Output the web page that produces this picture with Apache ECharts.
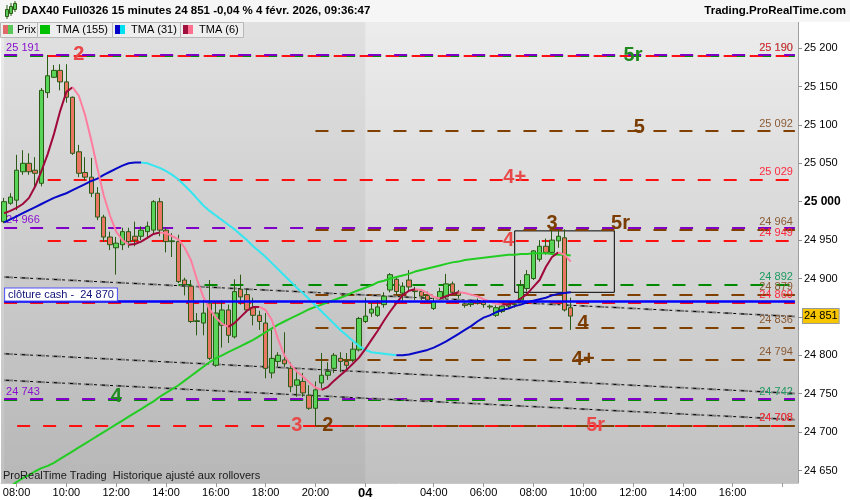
<!DOCTYPE html>
<html><head><meta charset="utf-8">
<script src="https://cdn.jsdelivr.net/npm/echarts@6/dist/echarts.min.js"></script>
<style>html,body{margin:0;padding:0;background:#fff}#c{width:850px;height:500px}</style>
</head><body><div id="c"></div>
<script>
// ---------------- DATA ----------------
function buildTimes(day, h0, m0, count){const out=[];let t=h0*60+m0;for(let i=0;i<count;i++){const h=Math.floor(t/60),m=t%60;out.push(day+' '+String(h).padStart(2,'0')+':'+String(m).padStart(2,'0'));t+=15;}return out;}
const categories = buildTimes('03',7,30,58).concat(buildTimes('04',1,15,70));

const xLabelCats = ['03 08:00','03 10:00','03 12:00','03 14:00','03 16:00','03 18:00','03 20:00','04 01:15','04 04:00','04 06:00','04 08:00','04 10:00','04 12:00','04 14:00','04 16:00'];
const xTickCats = xLabelCats.concat(['04 18:00']);
const yTicks = [24650,24700,24750,24800,24850,24900,24950,25000,25050,25100,25150,25200];

const open = [24974,24998,25002,25039,25050,25041,25024,25142,25162,25171,
25156,25136,25065,25038,25032,25011,24980,24954,24940,24944,
24961,24955,24955,24961,24963,25000,24963,24948,24948,24898,
24890,24844,24842,24868,24787,24839,24859,24824,24886,24879,
24862,24852,24842,24777,24792,24794,24783,24761,24766,24748,
24731,24764,24774,24783,24796,24792,24794,24807,24844,24855,
24852,24866,24885,24899,24881,24898,24885,24883,24878,24861,
24874,24876,24893,24882,24867,24866,24868,24869,24864,24852,
24857,24864,24866,24872,24887,24900,24925,24942,24934,24949,
24953,24862];
const close = [25000,25006,25041,25050,25039,25037,25145,25164,25171,25156,
25136,25063,25037,25032,25011,24980,24954,24944,24946,24961,
24948,24950,24963,24968,25000,24963,24948,24949,24896,24892,
24844,24845,24855,24796,24855,24859,24826,24883,24876,24859,
24852,24844,24783,24796,24800,24789,24759,24768,24751,24731,
24755,24774,24779,24800,24792,24787,24808,24848,24851,24860,
24863,24877,24905,24883,24890,24889,24883,24877,24872,24870,
24883,24893,24882,24878,24865,24868,24870,24866,24863,24862,
24864,24866,24867,24891,24905,24936,24942,24934,24950,24955,
24859,24851];
const low = [24972,24996,24989,25035,25035,25019,25020,25135,25161,25145,
25129,25061,25032,25028,25006,24976,24948,24937,24905,24937,
24940,24942,24950,24953,24957,24955,24934,24928,24894,24878,
24842,24826,24826,24794,24785,24810,24816,24822,24866,24856,
24839,24833,24770,24770,24785,24785,24752,24746,24746,24729,
24708,24757,24768,24777,24778,24781,24791,24805,24842,24850,
24850,24862,24882,24879,24870,24885,24872,24872,24870,24859,
24872,24873,24879,24874,24862,24863,24866,24862,24860,24850,
24855,24861,24862,24868,24883,24898,24922,24931,24931,24940,
24857,24833];
const high = [25005,25011,25061,25067,25063,25058,25148,25191,25178,25179,
25179,25137,25074,25058,25057,25019,24983,24961,24954,24966,
24966,24974,24968,24974,25002,25005,24966,24959,24957,24901,
24898,24855,24872,24898,24869,24872,24866,24899,24905,24885,
24875,24858,24855,24833,24804,24830,24791,24781,24777,24761,
24766,24803,24791,24803,24804,24803,24817,24850,24875,24869,
24872,24882,24907,24902,24895,24911,24889,24886,24883,24875,
24888,24906,24896,24885,24869,24872,24874,24872,24866,24865,
24868,24869,24870,24898,24911,24937,24950,24952,24963,24964,
24964,24875];

const tma155 = [24624,24629,24635,24640,24644,24649,24653,24656,24660,24665,
24670,24675,24680,24685,24690,24695,24700,24705,24710,24715,
24720,24725,24730,24735,24740,24746,24751,24756,24761,24767,
24773,24779,24785,24791,24796,24800,24804,24808,24812,24816,
24820,24825,24830,24835,24840,24844,24848,24852,24856,24860,
24863,24866,24869,24872,24875,24878,24882,24885,24888,24891,
24895,24897,24900,24902,24904,24906,24909,24911,24913,24915,
24917,24919,24921,24922,24924,24925,24926,24927,24928,24929,
24930,24931,24931,24932,24932,24933,24933,24933,24932,24931,
24931,24930];
const tma31 = [24973,24977,24981,24985,24989,24993,24997,25001,25005,25008,
25011,25015,25019,25023,25027,25030,25035,25039,25043,25047,
25050,25051,25051,25050,25047,25044,25040,25035,25029,25021,
25013,25004,24995,24988,24982,24976,24970,24964,24957,24950,
24942,24935,24928,24920,24912,24904,24896,24888,24881,24873,
24865,24857,24849,24841,24833,24826,24819,24812,24807,24804,
24803,24802,24801,24800,24800,24801,24803,24805,24807,24810,
24814,24818,24823,24828,24833,24838,24844,24849,24852,24856,
24859,24861,24864,24866,24869,24871,24873,24875,24878,24880,
24881,24882];
const tma6 = [24985,24988,24992,24997,25005,25020,25040,25062,25088,25118,
25143,25149,25138,25113,25080,25043,25008,24982,24961,24950,
24944,24945,24948,24953,24958,24960,24959,24955,24951,24940,
24924,24898,24876,24860,24849,24841,24837,24842,24850,24858,
24863,24863,24859,24846,24821,24800,24788,24779,24772,24765,
24758,24755,24759,24767,24774,24781,24789,24797,24808,24820,
24832,24845,24857,24868,24878,24884,24886,24885,24881,24876,
24874,24877,24880,24882,24881,24879,24877,24873,24870,24867,
24866,24866,24869,24874,24880,24889,24898,24915,24928,24934,
24931,24922];

const purpleLevels = [25191, 24966, 24743];
const greenLevels = [25190, 24892, 24742];
const brownLevels = [25092, 24964, 24879, 24836, 24794, 24708];
const redLevels = [25190, 25029, 24949, 24869, 24708];
const cashClose = 24870;
const lastPrice = 24851;
const trendStart = [24902, 24802, 24767.6];
const trendEnd = [24850.5, 24750.4, 24716.2];
const boxTop = 24962, boxBottom = 24882;
const waveText = ['2','5r','5','4+','3','5r','4','4','4+','4','3','2','5r'];
const waveCat = ['03 10:30','04 12:00','04 12:15','04 07:15','04 08:45','04 11:30','04 07:00','04 10:00','04 10:00','03 12:00','03 19:15','03 20:30','04 10:30'];
const waveValue = [25192,25190,25097,25031,24972,24971,24949,24841,24794,24746,24709,24709,24708];
const waveKind = ['red','green','brown','red','brown','brown','red','brown','brown','green','red','brown','red'];

// ---------------- STYLE ----------------
const FF = 'Liberation Sans, Arial, sans-serif';
const COL = {red:'#ff1010', purple:'#8000c8', green:'#008a00', brown:'#7f4000', blue:'#0000ff'};
const TXT = {red:'#ff2a40', purple:'#8a10d0', green:'#1e9a60', brown:'#8a5a34'};
const WAVE = {red:'#e84848', brown:'#7a3c00', green:'#1f8a1f'};
const fmt = v => String(Math.round(v)).replace(/\B(?=(\d{3})+(?!\d))/g, ' ');
const lastCat = categories[categories.length-1];
const redStart = [7,7,7,0,0], greenStart = [0,28,0], brownStart = 50, purpleStart = 0;

function seg(v, startIdx, color, side, txtColor, dashOffset){
  const lbl = side ? {show:true, position: side==='right'?'insideEndTop':'insideStartTop', formatter: fmt(v), color: txtColor, fontSize:11, fontFamily:FF, distance:2} : {show:false};
  return [{coord:[categories[startIdx], v], lineStyle:{color:color, width:2, type:[13,13], dashOffset:dashOffset||0}, label:lbl},
          {coord:[lastCat, v]}];
}
const guideLines = [];
greenLevels.forEach((v,i)=>guideLines.push(seg(v, greenStart[i], COL.green, 'right', TXT.green)));
brownLevels.forEach(v=>guideLines.push(seg(v, brownStart, COL.brown, 'right', TXT.brown)));
redLevels.forEach((v,i)=>guideLines.push(seg(v, redStart[i], COL.red, 'right', TXT.red, v===24708?13:0)));
purpleLevels.forEach(v=>guideLines.push(seg(v, purpleStart, COL.purple, 'left', TXT.purple)));
trendStart.forEach((v,i)=>{
  guideLines.push([{coord:[categories[0], v], lineStyle:{color:'#7c7c7c', width:2, type:[9,7]}, label:{show:false}}, {coord:[lastCat, trendEnd[i]]}]);
  guideLines.push([{coord:[categories[0], v], lineStyle:{color:'#000', width:1, type:[3,5], dashOffset:-10}, label:{show:false}}, {coord:[lastCat, trendEnd[i]]}]);
});

function runs(vals, up, down, name){
  const out=[]; let start=0, dir=null;
  for(let i=0;i<vals.length-1;i++){
    const d = vals[i+1]>=vals[i]?'up':'down';
    if(dir===null) dir=d;
    if(d!==dir){ out.push([start,i,dir]); start=i; dir=d; }
  }
  out.push([start, vals.length-1, dir]);
  return out.map(([a,b,d])=>({type:'line', name:name, z:3, symbol:'none', silent:true, animation:false,
    data: vals.map((v,i)=>(i>=a&&i<=b)?v:'-'),
    lineStyle:{color: d==='up'?up:down, width:2}, itemStyle:{color: d==='up'?up:down}}));
}
const empty = categories.map(()=> '-');

const candleData = open.map((o,i)=>[o, close[i], low[i], high[i]]);

const tabs = [
  {x:0, w:37, text:'Prix', c1:'#e06a6a', c2:'#58c858', tx:15},
  {x:37, w:75, text:'TMA (155)', c1:'#00c000', c2:'#00c000', tx:54},
  {x:112, w:68, text:'TMA (31)', c1:'#0000c8', c2:'#00e0f0', tx:129},
  {x:180, w:63, text:'TMA (6)', c1:'#a0103c', c2:'#ff7090', tx:197}
];
const graphic = [
  {type:'rect', z:100, shape:{x:0,y:0,width:850,height:22}, style:{fill:'#f6f6f6'}},
  {type:'line', z:101, shape:{x1:7,y1:5,x2:7,y2:19}, style:{stroke:'#2a5a14', lineWidth:1}},
  {type:'rect', z:102, shape:{x:5.5,y:9.5,width:3,height:7}, style:{fill:'#58c858', stroke:'#2a5a14', lineWidth:1}},
  {type:'line', z:101, shape:{x1:11,y1:3,x2:11,y2:16}, style:{stroke:'#2a5a14', lineWidth:1}},
  {type:'rect', z:102, shape:{x:9.5,y:6.5,width:3,height:7}, style:{fill:'#58c858', stroke:'#2a5a14', lineWidth:1}},
  {type:'line', z:101, shape:{x1:15,y1:1,x2:15,y2:12}, style:{stroke:'#2a5a14', lineWidth:1}},
  {type:'rect', z:102, shape:{x:13.5,y:3.5,width:3,height:6}, style:{fill:'#58c858', stroke:'#2a5a14', lineWidth:1}},
  {type:'text', z:102, x:22, y:11, style:{text:'DAX40 Full0326 15 minutes 24 851 -0,04 % 4 févr. 2026, 09:36:47', font:'bold 11.5px '+FF, fill:'#000', align:'left', verticalAlign:'middle'}},
  {type:'text', z:102, x:846, y:11, style:{text:'Trading.ProRealTime.com', font:'bold 11.5px '+FF, fill:'#000', align:'right', verticalAlign:'middle'}},
  {type:'text', z:102, x:3, y:476, style:{text:'ProRealTime Trading  Historique ajusté aux rollovers', font:'11px '+FF, fill:'#1a1a1a', align:'left', verticalAlign:'middle'}}
];
tabs.forEach(t=>{
  graphic.push({type:'rect', z:100, shape:{x:t.x+0.5,y:22.5,width:t.w,height:15}, style:{fill:'#eeeeee', stroke:'#b8b8b8', lineWidth:1}});
  graphic.push({type:'rect', z:101, shape:{x:t.x+3,y:25,width:5,height:9}, style:{fill:t.c1}});
  graphic.push({type:'rect', z:101, shape:{x:t.x+8,y:25,width:5,height:9}, style:{fill:t.c2}});
  graphic.push({type:'text', z:101, x:t.tx+2, y:30, style:{text:t.text, font:'11px '+FF, fill:'#000', align:'left', verticalAlign:'middle'}});
});

const labelSet = new Set(xLabelCats.map(c=>categories.indexOf(c)));
const tickSet = new Set(xTickCats.map(c=>categories.indexOf(c)));

const option = {
  animation:false,
  backgroundColor:'#ffffff',
  grid:{left:1, right:52, top:22, bottom:17, containLabel:false, outerBoundsMode:'none', show:true, borderWidth:0,
    backgroundColor:{type:'linear',x:0,y:0,x2:0,y2:1,colorStops:[{offset:0,color:'#ececec'},{offset:1,color:'#c0c0c0'}]}},
  xAxis:{type:'category', data:categories, boundaryGap:true,
    axisLine:{show:true, lineStyle:{color:'#c8c8c8'}},
    axisTick:{show:true, interval:(i)=>tickSet.has(i), alignWithLabel:true, length:4, lineStyle:{color:'#9a9a9a'}},
    axisLabel:{interval:(i)=>labelSet.has(i), margin:4, fontSize:11, fontFamily:FF, color:'#000',
      formatter:(v)=> v==='04 01:15' ? '{d|04}' : v.slice(3),
      rich:{d:{fontWeight:'bold', fontSize:13, fontFamily:FF, color:'#000'}}},
    splitLine:{show:false}},
  yAxis:{type:'value', position:'right', min:24633.7, max:25234.0, scale:true,
    axisLine:{show:true, lineStyle:{color:'#a0a0a0'}},
    axisTick:{show:true, length:4, customValues:yTicks, lineStyle:{color:'#909090'}},
    axisLabel:{customValues:yTicks, margin:6, fontSize:11, fontFamily:FF, color:'#000',
      formatter:(v)=> v===25000 ? '{b|25 000}' : fmt(v),
      rich:{b:{fontWeight:'bold', fontSize:12, fontFamily:FF, color:'#000'}}},
    splitLine:{show:false}},
  graphic: graphic,
  series:[
    {type:'line', name:'guides', z:1, data:empty, symbol:'none', silent:true, lineStyle:{opacity:0},
      markArea:{z:1, silent:true, animation:false, data:[
        [{xAxis:categories[0], itemStyle:{color:'rgba(0,0,0,0.045)'}}, {xAxis:'04 01:15'}],
        [{coord:['04 07:15', boxTop], itemStyle:{color:'rgba(0,0,0,0)', borderColor:'#000', borderWidth:1}}, {coord:['04 11:15', boxBottom]}]
      ]},
      markLine:{z:1, silent:true, animation:false, symbol:['none','none'], precision:0, data:guideLines}},
    {type:'candlestick', name:'Prix', z:2, data:candleData, barWidth:5, silent:true,
      itemStyle:{color:'#58d458', color0:'#ea7664', borderColor:'#2a5a14', borderColor0:'#2a5a14', borderWidth:1}},
    {type:'line', name:'TMA (155)', z:3, data:tma155, symbol:'none', silent:true, lineStyle:{color:'#22cc22', width:2}},
    ...runs(tma31, '#0808c8', '#33e6f0', 'TMA (31)'),
    ...runs(tma6, '#a0083c', '#ff7ea0', 'TMA (6)'),
    {type:'line', name:'cash', z:4, data:empty, symbol:'none', silent:true, lineStyle:{opacity:0},
      markLine:{z:4, silent:true, animation:false, symbol:['none','none'], data:[
        [{coord:[categories[0], cashClose], lineStyle:{color:COL.blue, width:2.5, type:'solid'},
          label:{show:true, position:'insideStartTop', distance:1, formatter:'clôture cash -  ' + fmt(cashClose), color:'#10107a', fontSize:11, fontFamily:FF, backgroundColor:'#ffffff', borderColor:'#5050ff', borderWidth:1, padding:[1,3,0,3]}},
         {coord:[lastCat, cashClose]}]
      ]}},
    {type:'line', name:'price', z:6, data:empty, symbol:'none', silent:true, lineStyle:{opacity:0},
      markLine:{z:8, silent:true, animation:false, symbol:['none','none'], data:[
        {yAxis:lastPrice, lineStyle:{color:'rgba(0,0,0,0)', width:1, type:'solid'},
         label:{show:true, position:'end', distance:5, formatter:fmt(lastPrice), color:'#000', fontSize:11, fontFamily:FF, backgroundColor:'#f7c600', borderColor:'#9a9a9a', borderWidth:1, padding:[2,1,1,1]}}
      ]}},
    {type:'line', name:'waves', z:5, data:empty, symbol:'none', silent:true, lineStyle:{opacity:0},
      markPoint:{z:7, silent:true, animation:false, symbol:'circle', symbolSize:1, itemStyle:{color:'rgba(0,0,0,0)'},
        data: waveText.map((t,i)=>({coord:[waveCat[i], waveValue[i]], label:{show:true, position:'inside', formatter:t, color:WAVE[waveKind[i]], fontSize:20, fontWeight:'bold', fontFamily:FF, textBorderWidth:0}}))}}
  ]
};
const chart = echarts.init(document.getElementById('c'), null, {renderer:'canvas', width:850, height:500});
chart.setOption(option);
</script>
</body></html>
